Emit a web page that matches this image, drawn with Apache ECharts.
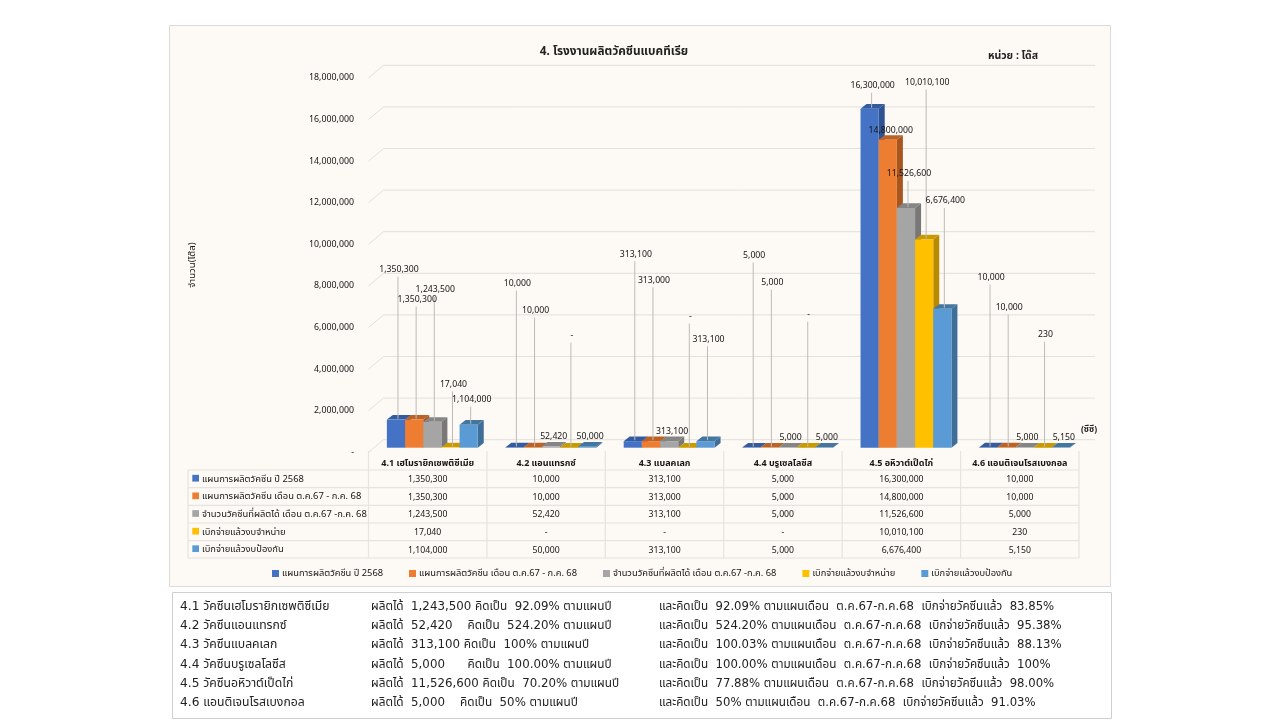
<!DOCTYPE html>
<html><head><meta charset="utf-8">
<style>html,body{margin:0;padding:0;background:#fff}#c{width:1280px;height:720px}</style>
<script src="https://cdn.jsdelivr.net/npm/echarts@6/dist/echarts.min.js"></script>
</head><body><div id="c"></div>
<script>
const categories = ['4.1 เฮโมรายิกเซพติซีเมีย','4.2 แอนแทรกซ์','4.3 แบลคเลก','4.4 บรูเซลโลซีส','4.5 อหิวาต์เป็ดไก่','4.6 แอนติเจนโรสเบงกอล'];
const seriesNames = ['แผนการผลิตวัคซีน ปี 2568','แผนการผลิตวัคซีน เดือน ต.ค.67 - ก.ค. 68','จำนวนวัคซีนที่ผลิตได้ เดือน ต.ค.67 -ก.ค. 68','เบิกจ่ายแล้วงบจำหน่าย','เบิกจ่ายแล้วงบป้องกัน'];
const plan2568 = [1350300,10000,313100,5000,16300000,10000];
const planMonths = [1350300,10000,313000,5000,14800000,10000];
const produced = [1243500,52420,313100,5000,11526600,5000];
const paidSale = [17040,0,0,0,10010100,230];
const paidPrevent = [1104000,50000,313100,5000,6676400,5150];
const yTicks = [0,2000000,4000000,6000000,8000000,10000000,12000000,14000000,16000000,18000000];
const notesA = ['4.1 วัคซีนเฮโมรายิกเซพติซีเมีย','4.2 วัคซีนแอนแทรกซ์','4.3 วัคซีนแบลคเลก','4.4 วัคซีนบรูเซลโลซีส','4.5 วัคซีนอหิวาต์เป็ดไก่','4.6 แอนติเจนโรสเบงกอล'];
const notesB = ['ผลิตได้  1,243,500 คิดเป็น  92.09% ตามแผนปี','ผลิตได้  52,420    คิดเป็น  524.20% ตามแผนปี','ผลิตได้  313,100 คิดเป็น  100% ตามแผนปี','ผลิตได้  5,000      คิดเป็น  100.00% ตามแผนปี','ผลิตได้  11,526,600 คิดเป็น  70.20% ตามแผนปี','ผลิตได้  5,000    คิดเป็น  50% ตามแผนปี'];
const notesC = ['และคิดเป็น  92.09% ตามแผนเดือน  ต.ค.67-ก.ค.68  เบิกจ่ายวัคซีนแล้ว  83.85%','และคิดเป็น  524.20% ตามแผนเดือน  ต.ค.67-ก.ค.68  เบิกจ่ายวัคซีนแล้ว  95.38%','และคิดเป็น  100.03% ตามแผนเดือน  ต.ค.67-ก.ค.68  เบิกจ่ายวัคซีนแล้ว  88.13%','และคิดเป็น  100.00% ตามแผนเดือน  ต.ค.67-ก.ค.68  เบิกจ่ายวัคซีนแล้ว  100%','และคิดเป็น  77.88% ตามแผนเดือน  ต.ค.67-ก.ค.68  เบิกจ่ายวัคซีนแล้ว  98.00%','และคิดเป็น  50% ตามแผนเดือน  ต.ค.67-ก.ค.68  เบิกจ่ายวัคซีนแล้ว  91.03%'];
const seriesValues = [plan2568,planMonths,produced,paidSale,paidPrevent];

// Styling and layout, separate from the data
const colors = ['#4472C4','#ED7D31','#A5A5A5','#FFC000','#5B9BD5'];
const sideColors = ['#2F5290','#A8561F','#787878','#B78A00','#3F6E99'];
const topColors = ['#345A9F','#BC6226','#858585','#C99A00','#44779F'];
const labelLift = [
  [150,164,187,192,23,170],
  [120,137,161,165,9,140],
  [132,10,10,10,34,10],
  [63,112,131,133,157,113],
  [25,10,102,10,108,10]
];
const FONT = '"Noto Sans","Noto Sans Thai",Tahoma,sans-serif';
const TXT = '#161616';
const G = {left:368.5,top:77.9,width:710.5,height:374.4};
const depthWall = [15,12.6], barShift = [4.6,4.6], barDepth = [6,4.7], barRatio = 0.1535;
const fmt = v => v === 0 ? '-' : v.toLocaleString('en-US');

function barRender(si){
  return function(params, api){
    const idx = api.value(0), v = api.value(1);
    const c = api.coord([idx,v]), c0 = api.coord([idx,0]);
    const w = api.size([1,0])[0]*barRatio;
    const x = c[0]+barShift[0]+(si-2.5)*w;
    const t = c[1]-barShift[1], b = c0[1]-barShift[1];
    const [dx,dy] = barDepth;
    const lift = labelLift[si][idx];
    const lx = x+w/2+2, ly = t-lift;
    const kids = [
      {type:'polygon',shape:{points:[[x+w,t],[x+w+dx,t-dy],[x+w+dx,b-dy],[x+w,b]]},style:{fill:sideColors[si]},z2:si},
      {type:'polygon',shape:{points:[[x,t],[x+dx,t-dy],[x+w+dx,t-dy],[x+w,t]]},style:{fill:topColors[si]},z2:si},
      {type:'rect',shape:{x:x,y:t,width:w,height:b-t},style:{fill:colors[si]},z2:si}
    ];
    if(lift>12) kids.push({type:'line',shape:{x1:lx,y1:ly+7,x2:lx,y2:t-1},style:{stroke:'#BDBBB9',lineWidth:1},z2:20});
    kids.push({type:'text',z2:21,style:{text:fmt(v),x:lx+1,y:ly,align:'center',verticalAlign:'middle',fill:TXT,font:'8.7px '+FONT}});
    return {type:'group',children:kids};
  };
}
const wallSeries = {
  type:'custom',name:'wall',silent:true,clip:false,z:1,
  coordinateSystem:'cartesian2d',
  data:yTicks.map(v=>[0,v]),encode:{x:0,y:1},
  renderItem(params,api){
    const cs = params.coordSys, y = api.coord([0,api.value(1)])[1];
    const [dx,dy] = depthWall;
    return {type:'polyline',shape:{points:[[cs.x,y],[cs.x+dx,y-dy],[cs.x+cs.width+dx+1,y-dy]]},style:{stroke:'#E3E0DD',fill:null,lineWidth:1}};
  }
};
const barSeries = seriesNames.map((n,si)=>({
  type:'custom',name:n,clip:false,z:3,coordinateSystem:'cartesian2d',
  itemStyle:{color:colors[si]},
  encode:{x:0,y:1},
  data:seriesValues[si].map((v,i)=>[i,v]),
  renderItem:barRender(si)
}));

// Table + panels
const T = {left:188,mid:368.5,right:1079,colTop:451,rowTops:[470,487.7,505.3,523,540.7,558]};
const colW = (T.right-T.mid)/6;
const line = {stroke:'#E6E3E0',lineWidth:1.2};
const elems = [
  {type:'rect',z:-10,shape:{x:169.5,y:25.5,width:941,height:561},style:{fill:'#FDF9F5',stroke:'#DDDBD9',lineWidth:1}},
  {type:'rect',z:-10,shape:{x:172.5,y:592.5,width:939,height:126},style:{fill:'#fff',stroke:'#CFCFCF',lineWidth:1}},
  {type:'text',style:{text:'หน่วย : โด๊ส',x:1013,y:56,align:'center',verticalAlign:'middle',fill:'#222',font:'bold 10.5px '+FONT}},
  {type:'text',style:{text:'(ซีซี)',x:1089,y:430,align:'center',verticalAlign:'middle',fill:'#222',font:'bold 8.5px '+FONT}}
];
T.rowTops.forEach(y=>elems.push({type:'line',shape:{x1:T.left,y1:y,x2:T.right,y2:y},style:line}));
elems.push({type:'line',shape:{x1:T.left,y1:470,x2:T.left,y2:558},style:line});
for(let i=0;i<=6;i++){const x=T.mid+i*colW;elems.push({type:'line',shape:{x1:x,y1:T.colTop,x2:x,y2:558},style:line});}
categories.forEach((c,i)=>elems.push({type:'text',style:{text:c,x:T.mid+(i+.5)*colW,y:463,align:'center',verticalAlign:'middle',fill:TXT,font:'bold 9px '+FONT}}));
seriesNames.forEach((n,si)=>{
  const y=(T.rowTops[si]+T.rowTops[si+1])/2;
  elems.push({type:'rect',shape:{x:192.3,y:y-4,width:6.7,height:6.7},style:{fill:colors[si]}});
  elems.push({type:'text',style:{text:n,x:202,y:y,align:'left',verticalAlign:'middle',fill:TXT,font:'9.4px '+FONT}});
  seriesValues[si].forEach((v,i)=>elems.push({type:'text',style:{text:fmt(v),x:T.mid+(i+.5)*colW,y:y+0.8,align:'center',verticalAlign:'middle',fill:TXT,font:'8.7px '+FONT}}));
});
const noteY=[607,626,645,665,684,703];
noteY.forEach((y,i)=>{
  [[180,notesA,12.2],[371,notesB,11.8],[659,notesC,11.7]].forEach(([x,arr,fs])=>elems.push({type:'text',style:{text:arr[i],x:x,y:y,align:'left',verticalAlign:'middle',fill:'#222',font:fs+'px "DejaVu Sans",'+FONT}}));
});

const chart = echarts.init(document.getElementById('c'),null,{renderer:'canvas'});
chart.setOption({
  animation:false,backgroundColor:'#fff',
  title:{text:'4. โรงงานผลิตวัคซีนแบคทีเรีย',left:614,top:52,textAlign:'center',textVerticalAlign:'middle',padding:0,textStyle:{fontFamily:FONT,fontSize:11.8,fontWeight:'bold',color:'#222'}},
  grid:G,
  legend:{data:seriesNames,left:272,top:569,padding:0,icon:'rect',itemWidth:7,itemHeight:7,itemGap:26,textStyle:{fontFamily:FONT,fontSize:9.3,color:TXT,padding:[0,0,0,-2]}},
  xAxis:{type:'category',data:categories,axisLine:{show:false},axisTick:{show:false},axisLabel:{show:false},splitLine:{show:false}},
  yAxis:{type:'value',min:0,max:18000000,interval:2000000,
    name:'จำนวน(โด๊ส)',nameLocation:'middle',nameGap:176,nameRotate:90,nameTextStyle:{fontFamily:FONT,fontSize:9.6,fontWeight:'normal',color:TXT,align:'center',verticalAlign:'middle'},
    axisLine:{show:false},axisTick:{show:false},splitLine:{show:false},
    axisLabel:{margin:14.5,fontFamily:FONT,fontSize:8.8,color:TXT,formatter:fmt}},
  graphic:{elements:elems},
  series:[wallSeries].concat(barSeries)
});
</script></body></html>
